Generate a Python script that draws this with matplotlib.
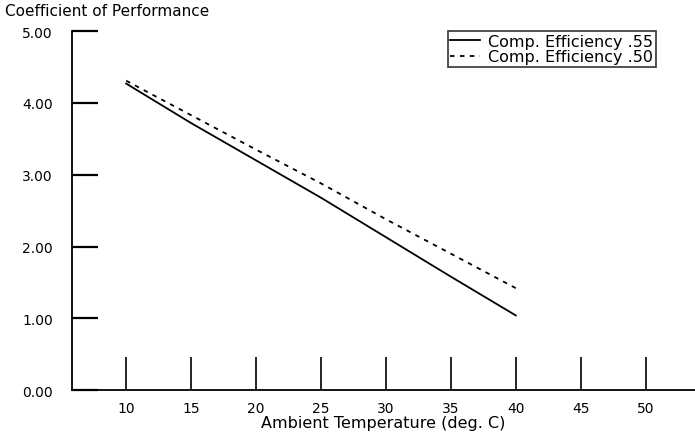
import matplotlib.pyplot as plt

# values
temps = [10, 15, 20, 25, 30, 35, 40]
cop_eff_55 = [4.27, 3.72, 3.20, 2.68, 2.13, 1.58, 1.04]
cop_eff_50 = [4.31, 3.83, 3.35, 2.88, 2.38, 1.90, 1.42]
x_ticks = [10, 15, 20, 25, 30, 35, 40, 45, 50]
y_ticks = [0, 1, 2, 3, 4, 5]
y_tick_labels = ['0.00', '1.00', '2.00', '3.00', '4.00', '5.00']

plt.rcParams['font.family'] = ['DejaVu Sans']

fig = plt.figure(figsize=(6.95, 4.35), dpi=100)
ax = fig.add_axes([0.104, 0.101, 0.896, 0.825])

ax.plot(temps, cop_eff_55, color='black', lw=1.3, label='Comp. Efficiency .55')
ax.plot(temps, cop_eff_50, color='black', lw=1.3, linestyle=(0, (2.5, 3)),
        label='Comp. Efficiency .50')

ax.set_xlim(5.85, 53.8)
ax.set_ylim(0, 5)
ax.set_xticks(x_ticks)
ax.set_yticks(y_ticks)
ax.set_yticklabels(y_tick_labels)

for side in ['top', 'right']:
    ax.spines[side].set_visible(False)
ax.spines['left'].set_linewidth(1.3)
ax.spines['bottom'].set_linewidth(1.3)

ax.tick_params(axis='y', direction='in', length=19, width=1.6, pad=14, labelsize=10)
ax.tick_params(axis='x', direction='in', length=24, width=1.2, pad=8, labelsize=10)

ax.set_xlabel('Ambient Temperature (deg. C)', fontsize=11.5, labelpad=0)
fig.text(0.007, 0.99, 'Coefficient of Performance', fontsize=11, va='top', ha='left')

leg = ax.legend(loc='upper right', bbox_to_anchor=(0.937, 1.0), fontsize=11.5,
                frameon=True, fancybox=False, edgecolor='black',
                handlelength=1.9, handletextpad=0.5, borderpad=0.15,
                labelspacing=0.05, borderaxespad=0)
leg.get_frame().set_linewidth(1.2)

fig.savefig('out.png', dpi=100)
